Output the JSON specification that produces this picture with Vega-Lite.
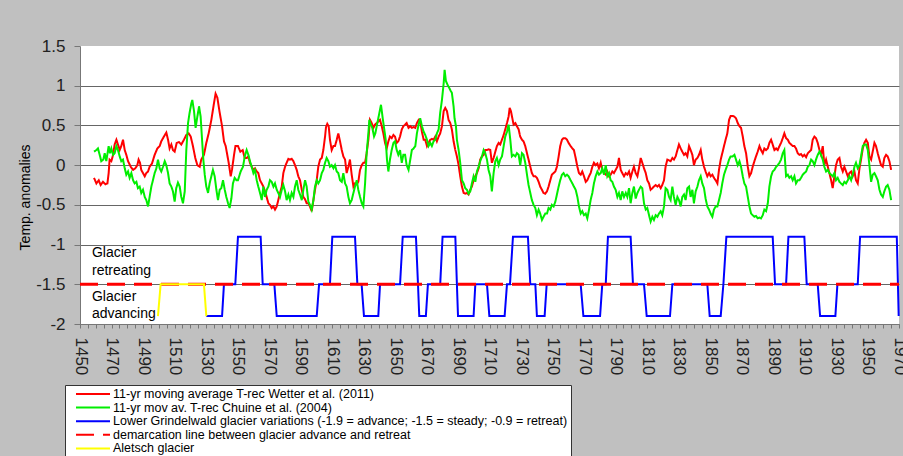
{
"$schema": "https://vega.github.io/schema/vega-lite/v6.json",
"width": 819, "height": 278,
"autosize": {"type": "none"},
"padding": {"left": 80, "top": 46, "right": 4, "bottom": 132},
"background": "#c0c0c0",
"config": {
  "font": "Liberation Sans",
  "view": {"fill": "white", "stroke": null},
  "legend": {
    "orient": "none", "legendX": -15, "legendY": 339, "title": null,
    "symbolType": "stroke", "symbolSize": 1156, "symbolStrokeWidth": 2, "symbolOffset": 7,
    "labelFontSize": 12.5, "labelFont": "Liberation Sans", "labelColor": "black", "labelLimit": 700, "labelOffset": 2,
    "fillColor": "white", "strokeColor": "#333", "padding": 3, "clipHeight": 12, "rowPadding": 0.6
  }
},
"datasets": {
"wetter": [{"year":1458.9,"value":-0.16},{"year":1460.4,"value":-0.23},{"year":1461.9,"value":-0.19},{"year":1463.1,"value":-0.25},{"year":1464.6,"value":-0.21},{"year":1466.1,"value":-0.24},{"year":1467.4,"value":-0.23},{"year":1468.2,"value":-0.10},{"year":1468.8,"value":0.07},{"year":1469.9,"value":0.05},{"year":1471.0,"value":0.13},{"year":1472.0,"value":0.26},{"year":1473.1,"value":0.32},{"year":1474.1,"value":0.26},{"year":1475.2,"value":0.19},{"year":1476.2,"value":0.24},{"year":1477.3,"value":0.32},{"year":1478.4,"value":0.19},{"year":1479.4,"value":0.13},{"year":1480.5,"value":0.05},{"year":1482.2,"value":-0.02},{"year":1483.7,"value":-0.06},{"year":1485.1,"value":-0.04},{"year":1486.4,"value":0.00},{"year":1487.2,"value":0.07},{"year":1488.1,"value":0.03},{"year":1488.9,"value":-0.06},{"year":1490.0,"value":-0.10},{"year":1491.1,"value":-0.14},{"year":1492.1,"value":-0.10},{"year":1493.2,"value":-0.08},{"year":1494.2,"value":-0.02},{"year":1495.7,"value":0.02},{"year":1497.4,"value":0.13},{"year":1499.1,"value":0.21},{"year":1500.6,"value":0.24},{"year":1501.6,"value":0.30},{"year":1503.3,"value":0.36},{"year":1504.8,"value":0.41},{"year":1505.9,"value":0.32},{"year":1506.9,"value":0.21},{"year":1508.0,"value":0.26},{"year":1509.0,"value":0.19},{"year":1510.1,"value":0.17},{"year":1511.4,"value":0.28},{"year":1512.9,"value":0.29},{"year":1514.3,"value":0.26},{"year":1516.0,"value":0.32},{"year":1517.5,"value":0.38},{"year":1519.0,"value":0.40},{"year":1520.3,"value":0.36},{"year":1521.7,"value":0.24},{"year":1523.2,"value":0.09},{"year":1524.5,"value":0.00},{"year":1526.0,"value":-0.02},{"year":1527.0,"value":0.07},{"year":1528.7,"value":0.13},{"year":1530.2,"value":0.28},{"year":1531.7,"value":0.40},{"year":1533.4,"value":0.57},{"year":1534.9,"value":0.76},{"year":1536.1,"value":0.90},{"year":1537.2,"value":0.85},{"year":1538.7,"value":0.66},{"year":1540.2,"value":0.49},{"year":1541.4,"value":0.30},{"year":1542.5,"value":0.24},{"year":1543.5,"value":0.13},{"year":1544.4,"value":0.03},{"year":1545.7,"value":-0.14},{"year":1546.5,"value":-0.06},{"year":1547.8,"value":0.13},{"year":1548.7,"value":0.24},{"year":1550.3,"value":0.24},{"year":1551.8,"value":0.17},{"year":1553.3,"value":0.19},{"year":1554.6,"value":0.09},{"year":1555.8,"value":0.09},{"year":1556.9,"value":0.11},{"year":1557.9,"value":0.03},{"year":1559.0,"value":-0.02},{"year":1560.1,"value":-0.06},{"year":1561.1,"value":-0.04},{"year":1562.2,"value":-0.08},{"year":1563.2,"value":-0.10},{"year":1564.3,"value":-0.19},{"year":1565.4,"value":-0.23},{"year":1566.4,"value":-0.27},{"year":1567.5,"value":-0.33},{"year":1568.5,"value":-0.40},{"year":1569.6,"value":-0.48},{"year":1570.6,"value":-0.50},{"year":1571.7,"value":-0.54},{"year":1572.8,"value":-0.52},{"year":1573.8,"value":-0.56},{"year":1574.9,"value":-0.52},{"year":1575.9,"value":-0.44},{"year":1577.0,"value":-0.35},{"year":1578.1,"value":-0.27},{"year":1579.1,"value":-0.10},{"year":1580.2,"value":-0.02},{"year":1581.2,"value":0.03},{"year":1582.3,"value":0.08},{"year":1583.3,"value":0.07},{"year":1584.4,"value":0.08},{"year":1585.5,"value":0.05},{"year":1586.5,"value":0.00},{"year":1587.6,"value":-0.06},{"year":1588.6,"value":-0.14},{"year":1589.7,"value":-0.19},{"year":1590.8,"value":-0.31},{"year":1591.8,"value":-0.40},{"year":1592.9,"value":-0.43},{"year":1593.9,"value":-0.48},{"year":1595.0,"value":-0.48},{"year":1596.0,"value":-0.52},{"year":1597.1,"value":-0.58},{"year":1598.2,"value":-0.44},{"year":1599.2,"value":-0.31},{"year":1600.3,"value":-0.19},{"year":1601.3,"value":-0.02},{"year":1602.4,"value":0.07},{"year":1603.5,"value":0.09},{"year":1604.5,"value":0.19},{"year":1605.6,"value":0.36},{"year":1606.2,"value":0.48},{"year":1607.0,"value":0.52},{"year":1607.9,"value":0.49},{"year":1608.7,"value":0.32},{"year":1609.8,"value":0.19},{"year":1610.9,"value":0.24},{"year":1611.9,"value":0.24},{"year":1613.0,"value":0.32},{"year":1614.0,"value":0.40},{"year":1615.1,"value":0.30},{"year":1616.2,"value":0.19},{"year":1617.2,"value":0.11},{"year":1618.3,"value":0.07},{"year":1619.3,"value":-0.10},{"year":1620.4,"value":-0.02},{"year":1621.4,"value":0.07},{"year":1622.5,"value":-0.12},{"year":1623.6,"value":-0.27},{"year":1624.6,"value":-0.23},{"year":1625.7,"value":-0.24},{"year":1626.7,"value":-0.21},{"year":1627.8,"value":-0.06},{"year":1628.9,"value":0.00},{"year":1629.9,"value":0.03},{"year":1631.0,"value":0.03},{"year":1632.0,"value":0.15},{"year":1633.1,"value":0.32},{"year":1634.1,"value":0.57},{"year":1635.2,"value":0.53},{"year":1636.3,"value":0.47},{"year":1637.3,"value":0.51},{"year":1638.4,"value":0.53},{"year":1639.4,"value":0.55},{"year":1640.5,"value":0.57},{"year":1641.6,"value":0.49},{"year":1642.6,"value":0.40},{"year":1643.7,"value":0.28},{"year":1644.7,"value":0.21},{"year":1645.8,"value":0.30},{"year":1646.8,"value":0.36},{"year":1647.9,"value":0.34},{"year":1649.0,"value":0.38},{"year":1650.0,"value":0.36},{"year":1651.1,"value":0.28},{"year":1652.1,"value":0.30},{"year":1653.2,"value":0.36},{"year":1654.3,"value":0.45},{"year":1655.3,"value":0.49},{"year":1656.4,"value":0.51},{"year":1657.4,"value":0.53},{"year":1658.6,"value":0.47},{"year":1659.7,"value":0.49},{"year":1660.7,"value":0.47},{"year":1661.8,"value":0.48},{"year":1662.9,"value":0.47},{"year":1663.9,"value":0.53},{"year":1665.0,"value":0.57},{"year":1666.0,"value":0.55},{"year":1667.1,"value":0.42},{"year":1668.2,"value":0.32},{"year":1669.2,"value":0.32},{"year":1670.3,"value":0.24},{"year":1671.3,"value":0.28},{"year":1672.4,"value":0.32},{"year":1673.4,"value":0.33},{"year":1674.5,"value":0.32},{"year":1675.6,"value":0.36},{"year":1676.6,"value":0.30},{"year":1677.7,"value":0.36},{"year":1678.7,"value":0.40},{"year":1679.8,"value":0.49},{"year":1680.9,"value":0.68},{"year":1681.9,"value":0.72},{"year":1683.0,"value":0.68},{"year":1684.0,"value":0.57},{"year":1685.1,"value":0.53},{"year":1686.1,"value":0.45},{"year":1687.2,"value":0.30},{"year":1688.3,"value":0.19},{"year":1689.3,"value":0.11},{"year":1690.4,"value":0.00},{"year":1691.4,"value":-0.14},{"year":1692.5,"value":-0.27},{"year":1693.6,"value":-0.35},{"year":1694.6,"value":-0.36},{"year":1695.7,"value":-0.35},{"year":1696.7,"value":-0.37},{"year":1697.8,"value":-0.31},{"year":1698.8,"value":-0.27},{"year":1699.9,"value":-0.19},{"year":1701.0,"value":-0.14},{"year":1702.0,"value":-0.10},{"year":1703.1,"value":-0.04},{"year":1704.1,"value":0.07},{"year":1705.2,"value":0.11},{"year":1706.3,"value":0.13},{"year":1707.3,"value":0.19},{"year":1708.4,"value":0.19},{"year":1709.4,"value":0.20},{"year":1710.5,"value":0.19},{"year":1711.5,"value":0.03},{"year":1712.6,"value":0.09},{"year":1713.7,"value":0.17},{"year":1714.7,"value":0.24},{"year":1715.8,"value":0.28},{"year":1716.8,"value":0.26},{"year":1717.9,"value":0.32},{"year":1719.0,"value":0.38},{"year":1720.0,"value":0.45},{"year":1721.1,"value":0.53},{"year":1722.1,"value":0.61},{"year":1722.8,"value":0.72},{"year":1723.6,"value":0.68},{"year":1724.7,"value":0.57},{"year":1725.3,"value":0.51},{"year":1726.4,"value":0.53},{"year":1727.4,"value":0.49},{"year":1728.5,"value":0.45},{"year":1729.5,"value":0.36},{"year":1730.6,"value":0.32},{"year":1731.6,"value":0.30},{"year":1732.7,"value":0.24},{"year":1733.8,"value":0.15},{"year":1734.8,"value":0.07},{"year":1735.9,"value":-0.02},{"year":1736.9,"value":-0.10},{"year":1738.0,"value":-0.14},{"year":1739.1,"value":-0.14},{"year":1740.1,"value":-0.16},{"year":1741.2,"value":-0.21},{"year":1742.2,"value":-0.27},{"year":1743.3,"value":-0.31},{"year":1744.3,"value":-0.35},{"year":1745.4,"value":-0.36},{"year":1746.5,"value":-0.33},{"year":1747.5,"value":-0.27},{"year":1748.6,"value":-0.19},{"year":1749.6,"value":-0.12},{"year":1750.7,"value":-0.10},{"year":1751.8,"value":-0.08},{"year":1752.8,"value":-0.02},{"year":1753.9,"value":0.11},{"year":1754.9,"value":0.24},{"year":1756.0,"value":0.32},{"year":1757.0,"value":0.34},{"year":1758.1,"value":0.34},{"year":1759.2,"value":0.32},{"year":1760.2,"value":0.28},{"year":1761.5,"value":0.24},{"year":1762.6,"value":0.21},{"year":1763.6,"value":0.19},{"year":1764.7,"value":0.09},{"year":1765.8,"value":-0.02},{"year":1766.8,"value":-0.10},{"year":1767.9,"value":-0.12},{"year":1768.9,"value":-0.08},{"year":1770.0,"value":-0.14},{"year":1771.1,"value":-0.21},{"year":1772.1,"value":-0.19},{"year":1773.2,"value":-0.14},{"year":1774.2,"value":-0.10},{"year":1775.3,"value":-0.02},{"year":1776.3,"value":0.03},{"year":1777.4,"value":0.00},{"year":1778.5,"value":0.02},{"year":1779.5,"value":-0.04},{"year":1780.6,"value":0.03},{"year":1781.6,"value":-0.06},{"year":1782.7,"value":-0.10},{"year":1783.8,"value":-0.12},{"year":1784.8,"value":-0.08},{"year":1785.9,"value":-0.14},{"year":1786.9,"value":-0.12},{"year":1788.0,"value":-0.08},{"year":1789.0,"value":-0.10},{"year":1790.1,"value":-0.06},{"year":1791.2,"value":-0.02},{"year":1792.2,"value":0.09},{"year":1793.3,"value":-0.06},{"year":1794.3,"value":-0.10},{"year":1795.4,"value":-0.14},{"year":1796.5,"value":-0.10},{"year":1797.5,"value":-0.12},{"year":1798.6,"value":-0.08},{"year":1799.6,"value":-0.16},{"year":1800.7,"value":-0.08},{"year":1801.7,"value":-0.02},{"year":1802.8,"value":-0.10},{"year":1803.9,"value":-0.14},{"year":1804.9,"value":-0.04},{"year":1806.0,"value":0.09},{"year":1807.0,"value":0.03},{"year":1808.1,"value":-0.04},{"year":1809.2,"value":-0.10},{"year":1810.2,"value":-0.19},{"year":1811.3,"value":-0.23},{"year":1812.3,"value":-0.31},{"year":1813.4,"value":-0.29},{"year":1814.4,"value":-0.27},{"year":1815.5,"value":-0.25},{"year":1816.6,"value":-0.27},{"year":1817.6,"value":-0.25},{"year":1818.7,"value":-0.29},{"year":1819.7,"value":-0.25},{"year":1820.8,"value":-0.19},{"year":1821.8,"value":-0.02},{"year":1822.9,"value":0.07},{"year":1824.0,"value":0.06},{"year":1825.0,"value":0.05},{"year":1826.1,"value":0.09},{"year":1827.1,"value":0.07},{"year":1828.2,"value":0.11},{"year":1829.3,"value":0.19},{"year":1830.3,"value":0.26},{"year":1831.4,"value":0.21},{"year":1832.4,"value":0.17},{"year":1833.5,"value":0.13},{"year":1834.5,"value":0.15},{"year":1835.6,"value":0.11},{"year":1836.7,"value":0.24},{"year":1837.7,"value":0.19},{"year":1838.8,"value":0.13},{"year":1839.8,"value":0.00},{"year":1840.9,"value":0.07},{"year":1842.0,"value":0.09},{"year":1843.0,"value":0.13},{"year":1844.1,"value":0.19},{"year":1845.1,"value":0.07},{"year":1846.2,"value":-0.02},{"year":1847.2,"value":-0.08},{"year":1848.3,"value":-0.14},{"year":1849.4,"value":-0.10},{"year":1850.4,"value":-0.14},{"year":1851.5,"value":-0.12},{"year":1852.5,"value":-0.16},{"year":1853.6,"value":-0.19},{"year":1854.7,"value":-0.23},{"year":1855.7,"value":-0.06},{"year":1856.8,"value":0.07},{"year":1857.8,"value":0.15},{"year":1858.9,"value":0.24},{"year":1859.9,"value":0.32},{"year":1861.0,"value":0.40},{"year":1862.1,"value":0.57},{"year":1863.1,"value":0.62},{"year":1864.4,"value":0.62},{"year":1865.5,"value":0.61},{"year":1866.5,"value":0.59},{"year":1867.6,"value":0.53},{"year":1868.7,"value":0.49},{"year":1869.7,"value":0.47},{"year":1870.8,"value":0.36},{"year":1871.8,"value":0.24},{"year":1872.9,"value":0.15},{"year":1874.0,"value":-0.02},{"year":1875.0,"value":-0.14},{"year":1876.1,"value":-0.10},{"year":1877.1,"value":-0.02},{"year":1878.2,"value":0.05},{"year":1879.2,"value":0.11},{"year":1880.3,"value":0.17},{"year":1881.4,"value":0.24},{"year":1882.4,"value":0.19},{"year":1883.5,"value":0.15},{"year":1884.5,"value":0.21},{"year":1885.6,"value":0.19},{"year":1886.7,"value":0.21},{"year":1887.7,"value":0.28},{"year":1888.8,"value":0.32},{"year":1889.8,"value":0.26},{"year":1890.9,"value":0.19},{"year":1892.0,"value":0.21},{"year":1893.0,"value":0.19},{"year":1894.1,"value":0.24},{"year":1895.1,"value":0.28},{"year":1896.2,"value":0.34},{"year":1897.2,"value":0.40},{"year":1898.3,"value":0.34},{"year":1899.4,"value":0.32},{"year":1900.4,"value":0.28},{"year":1901.5,"value":0.26},{"year":1902.5,"value":0.24},{"year":1903.6,"value":0.24},{"year":1904.6,"value":0.21},{"year":1905.7,"value":0.15},{"year":1906.8,"value":0.13},{"year":1907.8,"value":0.14},{"year":1908.9,"value":0.11},{"year":1909.9,"value":0.13},{"year":1911.0,"value":0.10},{"year":1912.1,"value":0.15},{"year":1913.1,"value":0.17},{"year":1914.2,"value":0.19},{"year":1915.2,"value":0.32},{"year":1916.3,"value":0.36},{"year":1917.3,"value":0.34},{"year":1918.4,"value":0.28},{"year":1919.5,"value":0.19},{"year":1920.5,"value":0.13},{"year":1921.6,"value":0.24},{"year":1922.6,"value":0.00},{"year":1923.7,"value":0.07},{"year":1924.8,"value":-0.02},{"year":1925.8,"value":-0.10},{"year":1926.9,"value":-0.19},{"year":1927.9,"value":-0.29},{"year":1929.0,"value":-0.14},{"year":1930.0,"value":0.00},{"year":1931.1,"value":0.07},{"year":1932.2,"value":0.09},{"year":1933.2,"value":-0.02},{"year":1934.3,"value":-0.08},{"year":1935.3,"value":-0.02},{"year":1936.4,"value":-0.08},{"year":1937.5,"value":-0.14},{"year":1938.5,"value":-0.10},{"year":1939.6,"value":-0.08},{"year":1940.6,"value":-0.14},{"year":1941.7,"value":-0.08},{"year":1942.7,"value":-0.19},{"year":1943.8,"value":-0.23},{"year":1944.9,"value":-0.04},{"year":1945.9,"value":0.07},{"year":1947.0,"value":0.21},{"year":1948.0,"value":0.28},{"year":1949.1,"value":0.32},{"year":1950.2,"value":0.28},{"year":1951.2,"value":0.11},{"year":1952.3,"value":0.07},{"year":1953.3,"value":0.17},{"year":1954.4,"value":0.28},{"year":1955.4,"value":0.24},{"year":1956.5,"value":0.15},{"year":1957.6,"value":0.07},{"year":1958.6,"value":0.00},{"year":1959.7,"value":-0.02},{"year":1960.7,"value":0.09},{"year":1961.8,"value":0.13},{"year":1962.8,"value":0.11},{"year":1963.9,"value":0.05},{"year":1965.0,"value":-0.06}],
"chuine": [{"year":1458.9,"value":0.17},{"year":1460.4,"value":0.19},{"year":1461.4,"value":0.21},{"year":1462.5,"value":0.13},{"year":1463.5,"value":0.05},{"year":1464.8,"value":0.07},{"year":1465.7,"value":0.15},{"year":1466.7,"value":0.05},{"year":1468.2,"value":0.24},{"year":1469.0,"value":0.15},{"year":1469.9,"value":0.21},{"year":1471.0,"value":0.13},{"year":1472.0,"value":0.15},{"year":1473.1,"value":0.24},{"year":1474.1,"value":0.19},{"year":1475.2,"value":0.11},{"year":1476.2,"value":0.05},{"year":1477.3,"value":0.07},{"year":1478.4,"value":-0.04},{"year":1479.4,"value":-0.12},{"year":1480.5,"value":-0.08},{"year":1481.5,"value":-0.16},{"year":1482.6,"value":-0.10},{"year":1483.7,"value":-0.19},{"year":1484.7,"value":-0.23},{"year":1485.8,"value":-0.21},{"year":1486.8,"value":-0.29},{"year":1487.9,"value":-0.27},{"year":1488.9,"value":-0.35},{"year":1490.0,"value":-0.31},{"year":1491.1,"value":-0.40},{"year":1492.1,"value":-0.44},{"year":1493.2,"value":-0.52},{"year":1494.2,"value":-0.40},{"year":1495.3,"value":-0.27},{"year":1496.3,"value":-0.19},{"year":1497.4,"value":-0.10},{"year":1498.5,"value":-0.04},{"year":1499.5,"value":0.07},{"year":1500.6,"value":-0.04},{"year":1501.6,"value":-0.08},{"year":1502.7,"value":-0.02},{"year":1503.8,"value":0.05},{"year":1504.8,"value":0.00},{"year":1505.9,"value":-0.10},{"year":1506.9,"value":-0.23},{"year":1508.0,"value":-0.27},{"year":1509.0,"value":-0.33},{"year":1510.1,"value":-0.46},{"year":1511.1,"value":-0.29},{"year":1512.2,"value":-0.22},{"year":1513.3,"value":-0.27},{"year":1514.3,"value":-0.40},{"year":1515.4,"value":-0.48},{"year":1516.5,"value":-0.33},{"year":1517.5,"value":0.19},{"year":1518.6,"value":0.53},{"year":1519.6,"value":0.66},{"year":1520.7,"value":0.78},{"year":1521.3,"value":0.82},{"year":1522.4,"value":0.68},{"year":1523.4,"value":0.47},{"year":1524.5,"value":0.61},{"year":1525.6,"value":0.74},{"year":1526.6,"value":0.61},{"year":1527.5,"value":0.32},{"year":1528.3,"value":0.07},{"year":1529.2,"value":-0.12},{"year":1530.2,"value":-0.27},{"year":1531.3,"value":-0.35},{"year":1532.3,"value":-0.23},{"year":1533.4,"value":-0.14},{"year":1534.4,"value":-0.06},{"year":1535.5,"value":-0.14},{"year":1536.6,"value":-0.31},{"year":1537.6,"value":-0.44},{"year":1538.7,"value":-0.31},{"year":1539.7,"value":-0.29},{"year":1540.8,"value":-0.19},{"year":1541.9,"value":-0.31},{"year":1542.9,"value":-0.40},{"year":1544.0,"value":-0.48},{"year":1545.0,"value":-0.54},{"year":1546.1,"value":-0.42},{"year":1547.1,"value":-0.23},{"year":1548.2,"value":-0.16},{"year":1549.3,"value":-0.19},{"year":1550.3,"value":-0.19},{"year":1552.0,"value":-0.08},{"year":1553.5,"value":-0.02},{"year":1554.6,"value":0.11},{"year":1555.8,"value":0.19},{"year":1556.9,"value":0.13},{"year":1557.9,"value":0.05},{"year":1559.0,"value":-0.02},{"year":1560.1,"value":-0.10},{"year":1561.1,"value":-0.06},{"year":1562.2,"value":-0.19},{"year":1563.2,"value":-0.27},{"year":1564.3,"value":-0.35},{"year":1565.4,"value":-0.44},{"year":1566.4,"value":-0.27},{"year":1567.5,"value":-0.40},{"year":1568.5,"value":-0.31},{"year":1569.6,"value":-0.27},{"year":1570.6,"value":-0.19},{"year":1571.7,"value":-0.21},{"year":1572.8,"value":-0.27},{"year":1573.8,"value":-0.23},{"year":1574.9,"value":-0.31},{"year":1575.9,"value":-0.35},{"year":1577.0,"value":-0.40},{"year":1578.1,"value":-0.31},{"year":1579.1,"value":-0.25},{"year":1580.2,"value":-0.33},{"year":1581.2,"value":-0.44},{"year":1582.3,"value":-0.37},{"year":1583.3,"value":-0.44},{"year":1584.4,"value":-0.35},{"year":1585.5,"value":-0.40},{"year":1586.5,"value":-0.27},{"year":1587.6,"value":-0.19},{"year":1588.6,"value":-0.31},{"year":1589.7,"value":-0.37},{"year":1590.8,"value":-0.44},{"year":1591.8,"value":-0.31},{"year":1592.9,"value":-0.19},{"year":1593.9,"value":-0.27},{"year":1595.0,"value":-0.46},{"year":1596.0,"value":-0.50},{"year":1597.1,"value":-0.56},{"year":1598.2,"value":-0.44},{"year":1599.2,"value":-0.27},{"year":1600.3,"value":-0.19},{"year":1601.3,"value":-0.23},{"year":1602.4,"value":-0.19},{"year":1603.5,"value":-0.10},{"year":1604.5,"value":-0.06},{"year":1605.6,"value":0.03},{"year":1606.6,"value":0.09},{"year":1607.7,"value":0.05},{"year":1608.7,"value":-0.02},{"year":1609.8,"value":0.00},{"year":1610.9,"value":-0.04},{"year":1611.9,"value":0.00},{"year":1613.0,"value":-0.08},{"year":1614.0,"value":-0.10},{"year":1615.1,"value":-0.19},{"year":1616.2,"value":-0.21},{"year":1617.2,"value":-0.10},{"year":1618.3,"value":-0.23},{"year":1619.3,"value":-0.27},{"year":1620.4,"value":-0.40},{"year":1621.4,"value":-0.48},{"year":1622.5,"value":-0.44},{"year":1623.6,"value":-0.35},{"year":1624.6,"value":-0.27},{"year":1625.7,"value":-0.19},{"year":1626.7,"value":-0.31},{"year":1627.8,"value":-0.40},{"year":1628.9,"value":-0.48},{"year":1629.9,"value":-0.52},{"year":1631.0,"value":-0.23},{"year":1632.0,"value":0.15},{"year":1633.1,"value":0.40},{"year":1633.7,"value":0.57},{"year":1634.6,"value":0.51},{"year":1635.6,"value":0.47},{"year":1636.7,"value":0.36},{"year":1637.5,"value":0.40},{"year":1638.8,"value":0.53},{"year":1640.1,"value":0.66},{"year":1641.1,"value":0.76},{"year":1642.2,"value":0.59},{"year":1643.2,"value":0.45},{"year":1644.1,"value":0.32},{"year":1644.9,"value":0.07},{"year":1645.8,"value":-0.08},{"year":1646.8,"value":0.07},{"year":1647.9,"value":0.19},{"year":1649.0,"value":0.28},{"year":1650.0,"value":0.30},{"year":1651.1,"value":0.19},{"year":1652.1,"value":0.13},{"year":1653.2,"value":0.19},{"year":1654.3,"value":0.03},{"year":1655.3,"value":0.13},{"year":1656.4,"value":0.13},{"year":1657.4,"value":0.00},{"year":1658.6,"value":-0.06},{"year":1659.7,"value":0.07},{"year":1660.7,"value":0.19},{"year":1661.8,"value":0.21},{"year":1662.9,"value":0.24},{"year":1663.9,"value":0.40},{"year":1665.0,"value":0.51},{"year":1666.0,"value":0.59},{"year":1667.1,"value":0.49},{"year":1668.2,"value":0.42},{"year":1669.2,"value":0.38},{"year":1670.3,"value":0.32},{"year":1671.3,"value":0.24},{"year":1672.4,"value":0.28},{"year":1673.4,"value":0.24},{"year":1674.5,"value":0.30},{"year":1675.6,"value":0.32},{"year":1676.6,"value":0.40},{"year":1677.7,"value":0.45},{"year":1678.7,"value":0.66},{"year":1679.8,"value":0.82},{"year":1680.9,"value":1.03},{"year":1681.5,"value":1.20},{"year":1682.3,"value":1.06},{"year":1683.4,"value":1.01},{"year":1684.5,"value":0.97},{"year":1685.5,"value":0.93},{"year":1686.1,"value":0.91},{"year":1687.2,"value":0.74},{"year":1687.8,"value":0.59},{"year":1688.7,"value":0.49},{"year":1689.3,"value":0.32},{"year":1690.4,"value":0.19},{"year":1691.4,"value":0.03},{"year":1692.5,"value":-0.19},{"year":1693.6,"value":-0.23},{"year":1694.6,"value":-0.29},{"year":1695.7,"value":-0.31},{"year":1696.7,"value":-0.36},{"year":1697.8,"value":-0.33},{"year":1698.8,"value":-0.23},{"year":1699.9,"value":-0.14},{"year":1701.0,"value":-0.21},{"year":1702.0,"value":-0.08},{"year":1703.1,"value":-0.02},{"year":1704.1,"value":0.05},{"year":1705.2,"value":0.11},{"year":1706.3,"value":0.19},{"year":1707.3,"value":0.15},{"year":1708.4,"value":0.07},{"year":1709.4,"value":-0.06},{"year":1710.5,"value":-0.14},{"year":1711.5,"value":-0.33},{"year":1712.6,"value":-0.10},{"year":1713.7,"value":0.05},{"year":1714.7,"value":0.09},{"year":1715.8,"value":0.00},{"year":1716.8,"value":0.07},{"year":1717.9,"value":0.11},{"year":1719.0,"value":0.24},{"year":1720.0,"value":0.36},{"year":1721.1,"value":0.42},{"year":1722.1,"value":0.51},{"year":1723.2,"value":0.32},{"year":1724.2,"value":0.11},{"year":1725.3,"value":0.13},{"year":1726.4,"value":0.11},{"year":1727.4,"value":0.15},{"year":1728.5,"value":0.13},{"year":1729.5,"value":0.00},{"year":1730.6,"value":0.15},{"year":1731.6,"value":0.13},{"year":1732.7,"value":0.03},{"year":1733.8,"value":-0.12},{"year":1734.8,"value":-0.25},{"year":1735.9,"value":-0.35},{"year":1736.9,"value":-0.44},{"year":1738.0,"value":-0.50},{"year":1739.1,"value":-0.54},{"year":1740.1,"value":-0.63},{"year":1741.2,"value":-0.56},{"year":1742.2,"value":-0.61},{"year":1743.3,"value":-0.69},{"year":1744.3,"value":-0.65},{"year":1745.4,"value":-0.61},{"year":1746.5,"value":-0.61},{"year":1747.5,"value":-0.54},{"year":1748.6,"value":-0.56},{"year":1749.6,"value":-0.50},{"year":1750.7,"value":-0.52},{"year":1751.8,"value":-0.46},{"year":1752.8,"value":-0.37},{"year":1753.9,"value":-0.27},{"year":1754.9,"value":-0.19},{"year":1756.0,"value":-0.12},{"year":1757.0,"value":-0.10},{"year":1758.1,"value":-0.14},{"year":1759.2,"value":-0.12},{"year":1760.2,"value":-0.14},{"year":1761.5,"value":-0.19},{"year":1762.6,"value":-0.23},{"year":1763.6,"value":-0.27},{"year":1764.7,"value":-0.31},{"year":1765.8,"value":-0.40},{"year":1766.8,"value":-0.52},{"year":1767.9,"value":-0.61},{"year":1768.9,"value":-0.58},{"year":1770.0,"value":-0.63},{"year":1771.1,"value":-0.61},{"year":1772.1,"value":-0.67},{"year":1773.2,"value":-0.56},{"year":1774.2,"value":-0.44},{"year":1775.3,"value":-0.35},{"year":1776.3,"value":-0.23},{"year":1777.4,"value":-0.14},{"year":1778.5,"value":-0.08},{"year":1779.5,"value":-0.12},{"year":1780.6,"value":-0.10},{"year":1781.6,"value":-0.04},{"year":1782.7,"value":-0.12},{"year":1783.8,"value":0.00},{"year":1784.8,"value":-0.14},{"year":1785.9,"value":-0.10},{"year":1786.9,"value":-0.19},{"year":1788.0,"value":-0.21},{"year":1789.0,"value":-0.27},{"year":1790.1,"value":-0.31},{"year":1791.2,"value":-0.40},{"year":1792.2,"value":-0.35},{"year":1793.3,"value":-0.44},{"year":1794.3,"value":-0.33},{"year":1795.4,"value":-0.40},{"year":1796.5,"value":-0.35},{"year":1797.5,"value":-0.40},{"year":1798.6,"value":-0.29},{"year":1799.6,"value":-0.48},{"year":1800.7,"value":-0.35},{"year":1801.7,"value":-0.27},{"year":1802.8,"value":-0.42},{"year":1803.9,"value":-0.35},{"year":1804.9,"value":-0.31},{"year":1806.0,"value":-0.27},{"year":1807.0,"value":-0.29},{"year":1808.1,"value":-0.48},{"year":1809.2,"value":-0.56},{"year":1810.2,"value":-0.54},{"year":1811.3,"value":-0.63},{"year":1812.3,"value":-0.71},{"year":1813.4,"value":-0.65},{"year":1814.4,"value":-0.69},{"year":1815.5,"value":-0.63},{"year":1816.6,"value":-0.65},{"year":1817.6,"value":-0.61},{"year":1818.7,"value":-0.58},{"year":1819.7,"value":-0.63},{"year":1820.8,"value":-0.52},{"year":1821.8,"value":-0.29},{"year":1822.9,"value":-0.31},{"year":1824.0,"value":-0.40},{"year":1825.0,"value":-0.44},{"year":1826.1,"value":-0.27},{"year":1827.1,"value":-0.40},{"year":1828.2,"value":-0.50},{"year":1829.3,"value":-0.40},{"year":1830.3,"value":-0.44},{"year":1831.4,"value":-0.52},{"year":1832.4,"value":-0.40},{"year":1833.5,"value":-0.37},{"year":1834.5,"value":-0.44},{"year":1835.6,"value":-0.29},{"year":1836.7,"value":-0.27},{"year":1837.7,"value":-0.40},{"year":1838.8,"value":-0.31},{"year":1839.8,"value":-0.48},{"year":1840.9,"value":-0.33},{"year":1842.0,"value":-0.27},{"year":1843.0,"value":-0.19},{"year":1844.1,"value":-0.14},{"year":1845.1,"value":-0.23},{"year":1846.2,"value":-0.29},{"year":1847.2,"value":-0.42},{"year":1848.3,"value":-0.52},{"year":1849.4,"value":-0.56},{"year":1850.4,"value":-0.61},{"year":1851.5,"value":-0.65},{"year":1852.5,"value":-0.56},{"year":1853.6,"value":-0.52},{"year":1854.7,"value":-0.52},{"year":1855.7,"value":-0.44},{"year":1856.8,"value":-0.35},{"year":1857.8,"value":-0.23},{"year":1858.9,"value":-0.12},{"year":1859.9,"value":-0.06},{"year":1861.0,"value":0.00},{"year":1862.1,"value":0.07},{"year":1863.1,"value":0.11},{"year":1864.4,"value":0.11},{"year":1865.5,"value":0.13},{"year":1866.5,"value":0.07},{"year":1867.6,"value":0.00},{"year":1868.7,"value":0.05},{"year":1869.7,"value":-0.02},{"year":1870.8,"value":-0.14},{"year":1871.8,"value":-0.23},{"year":1872.9,"value":-0.27},{"year":1874.0,"value":-0.40},{"year":1875.0,"value":-0.52},{"year":1876.1,"value":-0.61},{"year":1877.1,"value":-0.63},{"year":1878.2,"value":-0.65},{"year":1879.2,"value":-0.64},{"year":1880.3,"value":-0.67},{"year":1881.4,"value":-0.66},{"year":1882.4,"value":-0.67},{"year":1883.5,"value":-0.63},{"year":1884.5,"value":-0.56},{"year":1885.6,"value":-0.58},{"year":1886.7,"value":-0.48},{"year":1887.7,"value":-0.27},{"year":1888.8,"value":-0.14},{"year":1889.8,"value":-0.08},{"year":1890.9,"value":-0.06},{"year":1892.0,"value":-0.02},{"year":1893.0,"value":0.00},{"year":1894.1,"value":0.03},{"year":1895.1,"value":0.07},{"year":1896.2,"value":0.15},{"year":1897.2,"value":0.19},{"year":1898.3,"value":-0.14},{"year":1899.4,"value":-0.12},{"year":1900.4,"value":-0.16},{"year":1901.5,"value":-0.14},{"year":1902.5,"value":-0.19},{"year":1903.6,"value":-0.14},{"year":1904.6,"value":-0.23},{"year":1905.7,"value":-0.19},{"year":1906.8,"value":-0.19},{"year":1907.8,"value":-0.16},{"year":1908.9,"value":-0.12},{"year":1909.9,"value":-0.10},{"year":1911.0,"value":-0.08},{"year":1912.1,"value":-0.02},{"year":1913.1,"value":0.00},{"year":1914.2,"value":0.07},{"year":1915.2,"value":0.05},{"year":1916.3,"value":0.00},{"year":1917.3,"value":0.07},{"year":1918.4,"value":0.13},{"year":1919.5,"value":0.17},{"year":1920.5,"value":0.13},{"year":1921.6,"value":0.07},{"year":1922.6,"value":-0.02},{"year":1923.7,"value":-0.08},{"year":1924.8,"value":-0.06},{"year":1925.8,"value":-0.10},{"year":1926.9,"value":-0.12},{"year":1927.9,"value":-0.14},{"year":1929.0,"value":-0.10},{"year":1930.0,"value":-0.19},{"year":1931.1,"value":-0.16},{"year":1932.2,"value":-0.21},{"year":1933.2,"value":-0.23},{"year":1934.3,"value":-0.25},{"year":1935.3,"value":-0.21},{"year":1936.4,"value":-0.23},{"year":1937.5,"value":-0.19},{"year":1938.5,"value":-0.14},{"year":1939.6,"value":-0.19},{"year":1940.6,"value":-0.12},{"year":1941.7,"value":-0.02},{"year":1942.7,"value":0.03},{"year":1943.8,"value":-0.04},{"year":1944.9,"value":0.00},{"year":1945.9,"value":0.11},{"year":1947.0,"value":0.24},{"year":1948.0,"value":0.26},{"year":1949.1,"value":0.26},{"year":1950.2,"value":0.19},{"year":1951.2,"value":0.00},{"year":1952.3,"value":-0.21},{"year":1953.3,"value":-0.12},{"year":1954.4,"value":-0.10},{"year":1955.4,"value":-0.14},{"year":1956.5,"value":-0.19},{"year":1957.6,"value":-0.31},{"year":1958.6,"value":-0.37},{"year":1959.7,"value":-0.40},{"year":1960.7,"value":-0.33},{"year":1961.8,"value":-0.27},{"year":1962.8,"value":-0.25},{"year":1963.9,"value":-0.31},{"year":1965.0,"value":-0.44}],
"grindelwald": [{"year":1530.2,"value":-1.9},{"year":1540.2,"value":-1.9},{"year":1541.4,"value":-1.5},{"year":1548.6,"value":-1.5},{"year":1550.3,"value":-0.9},{"year":1564.7,"value":-0.9},{"year":1566.0,"value":-1.5},{"year":1573.4,"value":-1.5},{"year":1574.9,"value":-1.9},{"year":1600.3,"value":-1.9},{"year":1601.8,"value":-1.5},{"year":1608.7,"value":-1.5},{"year":1610.2,"value":-0.9},{"year":1624.6,"value":-0.9},{"year":1626.1,"value":-1.5},{"year":1628.8,"value":-1.5},{"year":1630.3,"value":-1.9},{"year":1639.4,"value":-1.9},{"year":1640.5,"value":-1.5},{"year":1653.2,"value":-1.5},{"year":1654.9,"value":-0.9},{"year":1663.3,"value":-0.9},{"year":1664.6,"value":-1.5},{"year":1665.4,"value":-1.9},{"year":1669.6,"value":-1.9},{"year":1670.9,"value":-1.5},{"year":1678.7,"value":-1.5},{"year":1680.2,"value":-0.9},{"year":1688.3,"value":-0.9},{"year":1689.3,"value":-1.5},{"year":1690.0,"value":-1.9},{"year":1699.9,"value":-1.9},{"year":1701.0,"value":-1.5},{"year":1708.4,"value":-1.5},{"year":1709.9,"value":-1.9},{"year":1719.6,"value":-1.9},{"year":1721.1,"value":-1.5},{"year":1723.0,"value":-1.5},{"year":1724.9,"value":-0.9},{"year":1734.4,"value":-0.9},{"year":1735.9,"value":-1.5},{"year":1739.1,"value":-1.5},{"year":1740.1,"value":-1.9},{"year":1745.0,"value":-1.9},{"year":1746.3,"value":-1.5},{"year":1767.9,"value":-1.5},{"year":1769.6,"value":-1.9},{"year":1780.2,"value":-1.9},{"year":1781.6,"value":-1.5},{"year":1783.8,"value":-1.5},{"year":1785.2,"value":-0.9},{"year":1799.6,"value":-0.9},{"year":1801.1,"value":-1.5},{"year":1808.1,"value":-1.5},{"year":1809.8,"value":-1.9},{"year":1824.6,"value":-1.9},{"year":1826.1,"value":-1.5},{"year":1848.3,"value":-1.5},{"year":1849.8,"value":-1.9},{"year":1856.8,"value":-1.9},{"year":1858.5,"value":-1.5},{"year":1860.4,"value":-0.9},{"year":1889.8,"value":-0.9},{"year":1891.3,"value":-1.5},{"year":1898.3,"value":-1.5},{"year":1899.8,"value":-0.9},{"year":1909.9,"value":-0.9},{"year":1911.4,"value":-1.5},{"year":1918.4,"value":-1.5},{"year":1919.9,"value":-1.9},{"year":1929.6,"value":-1.9},{"year":1930.9,"value":-1.5},{"year":1943.8,"value":-1.5},{"year":1945.3,"value":-0.9},{"year":1968.6,"value":-0.9},{"year":1969.8,"value":-1.9}],
"demarcation": [{"year":1450,"value":-1.5},{"year":1970,"value":-1.5}],
"aletsch": [{"year":1499.5,"value":-1.9},{"year":1501.2,"value":-1.5},{"year":1528.7,"value":-1.5},{"year":1530.2,"value":-1.9}],
"annot": [{"label":"Glacier","year":1457.6,"value":-1.11},{"label":"retreating","year":1457.6,"value":-1.335},{"label":"Glacier","year":1457.6,"value":-1.66},{"label":"advancing","year":1457.6,"value":-1.88}]
},
"encoding": {
  "x": {"field": "year", "type": "quantitative",
    "scale": {"domain": [1450, 1970], "nice": false, "zero": false},
    "axis": {"title": null, "grid": false,
      "values": [1450,1455,1460,1465,1470,1475,1480,1485,1490,1495,1500,1505,1510,1515,1520,1525,1530,1535,1540,1545,1550,1555,1560,1565,1570,1575,1580,1585,1590,1595,1600,1605,1610,1615,1620,1625,1630,1635,1640,1645,1650,1655,1660,1665,1670,1675,1680,1685,1690,1695,1700,1705,1710,1715,1720,1725,1730,1735,1740,1745,1750,1755,1760,1765,1770,1775,1780,1785,1790,1795,1800,1805,1810,1815,1820,1825,1830,1835,1840,1845,1850,1855,1860,1865,1870,1875,1880,1885,1890,1895,1900,1905,1910,1915,1920,1925,1930,1935,1940,1945,1950,1955,1960,1965,1970],
      "labelExpr": "(datum.value - 1450) % 20 == 0 ? toString(datum.value) : ''",
      "labelAngle": 90, "labelAlign": "left", "labelBaseline": "middle",
      "labelFontSize": 17, "labelColor": "#222", "labelPadding": 9,
      "labelOverlap": false, "labelFlush": false, "labelBound": false,
      "tickSize": 4, "tickColor": "#777", "domainColor": "#777"}},
  "y": {"field": "value", "type": "quantitative",
    "scale": {"domain": [-2, 1.5], "nice": false, "zero": false},
    "axis": {"title": "Temp. anomalies", "titleFontSize": 14, "titleFontWeight": "normal", "titleColor": "black",
      "titleX": -55, "titleY": 151, "titleBaseline": "middle",
      "values": [-2, -1.5, -1, -0.5, 0, 0.5, 1, 1.5],
      "labelExpr": "toString(datum.value)",
      "labelFontSize": 17, "labelColor": "#222", "labelPadding": 9,
      "tickSize": 6, "tickColor": "#777", "domainColor": "#777",
      "grid": true, "gridColor": "#666",
      "gridOpacity": {"condition": {"test": "datum.value >= 1.5", "value": 0}, "value": 1}}}
},
"layer": [
  {"data": {"name": "wetter"}, "mark": {"type": "line", "strokeWidth": 2},
   "encoding": {
     "color": {"datum": "wetter", "type": "nominal",
       "scale": {"domain": ["wetter","chuine","grindelwald","demarcation","aletsch"], "range": ["#ff0000","#00ee00","#0000ff","#ff0000","#ffff00"]},
       "legend": {"labelExpr": "datum.value == 'wetter' ? '11-yr moving average T-rec Wetter et al. (2011)' : datum.value == 'chuine' ? '11-yr mov av. T-rec Chuine et al.  (2004)' : datum.value == 'grindelwald' ? 'Lower Grindelwald glacier variations (-1.9 = advance; -1.5 = steady; -0.9 = retreat)' : datum.value == 'demarcation' ? 'demarcation line between glacier advance and retreat' : 'Aletsch glacier'"}},
     "strokeDash": {"datum": "wetter", "type": "nominal",
       "scale": {"domain": ["wetter","chuine","grindelwald","demarcation","aletsch"], "range": [[1,0],[1,0],[1,0],[18,9],[1,0]]},
       "legend": {"labelExpr": "datum.value == 'wetter' ? '11-yr moving average T-rec Wetter et al. (2011)' : datum.value == 'chuine' ? '11-yr mov av. T-rec Chuine et al.  (2004)' : datum.value == 'grindelwald' ? 'Lower Grindelwald glacier variations (-1.9 = advance; -1.5 = steady; -0.9 = retreat)' : datum.value == 'demarcation' ? 'demarcation line between glacier advance and retreat' : 'Aletsch glacier'"}}}},
  {"data": {"name": "chuine"}, "mark": {"type": "line", "strokeWidth": 2},
   "encoding": {
     "color": {"datum": "chuine", "type": "nominal"},
     "strokeDash": {"datum": "chuine", "type": "nominal"}}},
  {"data": {"name": "grindelwald"}, "mark": {"type": "line", "strokeWidth": 2},
   "encoding": {
     "color": {"datum": "grindelwald", "type": "nominal"},
     "strokeDash": {"datum": "grindelwald", "type": "nominal"}}},
  {"data": {"name": "demarcation"}, "mark": {"type": "line", "strokeWidth": 3},
   "encoding": {
     "color": {"datum": "demarcation", "type": "nominal"},
     "strokeDash": {"datum": "demarcation", "type": "nominal"}}},
  {"data": {"name": "aletsch"}, "mark": {"type": "line", "strokeWidth": 2},
   "encoding": {
     "color": {"datum": "aletsch", "type": "nominal"},
     "strokeDash": {"datum": "aletsch", "type": "nominal"}}},
  {"data": {"name": "annot"}, "mark": {"type": "text", "align": "left", "baseline": "middle", "fontSize": 14, "color": "black", "font": "Liberation Sans"},
   "encoding": {"text": {"field": "label", "type": "nominal"}}}
]
}
